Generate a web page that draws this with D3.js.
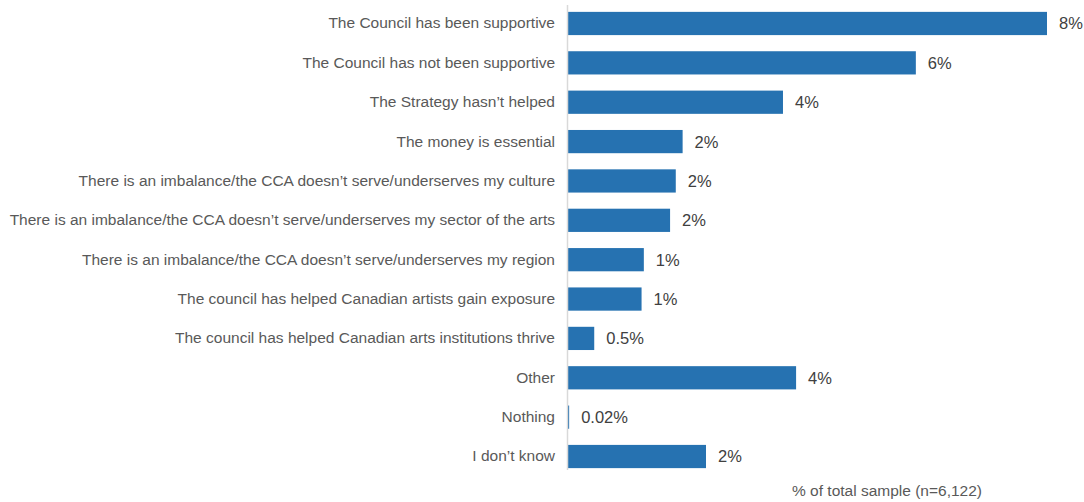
<!DOCTYPE html>
<html>
<head>
<meta charset="utf-8">
<script src="https://cdn.jsdelivr.net/npm/d3@7"></script>
<style>
  html, body { margin: 0; padding: 0; background: #fff; }
  svg { display: block; font-family: "Liberation Sans", Arial, sans-serif; }
</style>
</head>
<body>
<svg id="chart" width="1084" height="502"></svg>
<script>
// Responses (share of total sample, %)
const categories = [
  "The Council has been supportive",
  "The Council has not been supportive",
  "The Strategy hasn\u2019t helped",
  "The money is essential",
  "There is an imbalance/the CCA doesn\u2019t serve/underserves my culture",
  "There is an imbalance/the CCA doesn\u2019t serve/underserves my sector of the arts",
  "There is an imbalance/the CCA doesn\u2019t serve/underserves my region",
  "The council has helped Canadian artists gain exposure",
  "The council has helped Canadian arts institutions thrive",
  "Other",
  "Nothing",
  "I don\u2019t know"
];
const values = [8.4, 6.1, 3.77, 2.01, 1.89, 1.79, 1.33, 1.29, 0.46, 4.0, 0.02, 2.42];
const axisTitle = "% of total sample (n=6,122)";

// Value labels: whole percent from 1% up, finer below
const fmtValue = v => (v >= 1 ? d3.format(".0f")(v) : v >= 0.1 ? d3.format(".1f")(v) : d3.format(".2f")(v)) + "%";

const svg = d3.select("#chart");
const margin = { top: 4, left: 568, bottom: 476 };

const x = d3.scaleLinear()
  .domain([0, d3.max(values)])
  .range([margin.left, 1047]);

const y = d3.scaleBand()
  .domain(categories)
  .range([margin.top, margin.bottom])
  .paddingInner(0.41)
  .paddingOuter(0.2);

const data = categories.map((c, i) => ({ c, v: values[i] }));

// Bars
svg.append("g").selectAll("rect")
  .data(data)
  .join("rect")
  .attr("x", x(0))
  .attr("y", d => y(d.c))
  .attr("width", d => x(d.v) - x(0))
  .attr("height", y.bandwidth())
  .attr("fill", "#2672b1");

// Category axis line
svg.append("line")
  .attr("x1", x(0) - 0.5).attr("x2", x(0) - 0.5)
  .attr("y1", 5).attr("y2", 470)
  .attr("stroke", "#d9d9d9")
  .attr("stroke-width", 1.5);

// Category labels
const yAxis = d3.axisLeft(y).tickSize(0).tickPadding(13);
const ga = svg.append("g")
  .attr("transform", `translate(${x(0)},0)`)
  .call(yAxis);
ga.select(".domain").remove();
ga.selectAll("text")
  .attr("font-family", "Liberation Sans, Arial, sans-serif")
  .attr("font-size", 15.5)
  .attr("fill", "#595959");

// Value labels
svg.append("g").selectAll("text")
  .data(data)
  .join("text")
  .attr("x", d => x(d.v) + 12)
  .attr("y", d => y(d.c) + y.bandwidth() / 2)
  .attr("dy", "0.36em")
  .attr("font-size", 16.5)
  .attr("fill", "#404040")
  .text(d => fmtValue(d.v));

// Value axis title
svg.append("text")
  .attr("x", 887)
  .attr("y", 496)
  .attr("text-anchor", "middle")
  .attr("font-size", 15.5)
  .attr("fill", "#595959")
  .text(axisTitle);
</script>
</body>
</html>
